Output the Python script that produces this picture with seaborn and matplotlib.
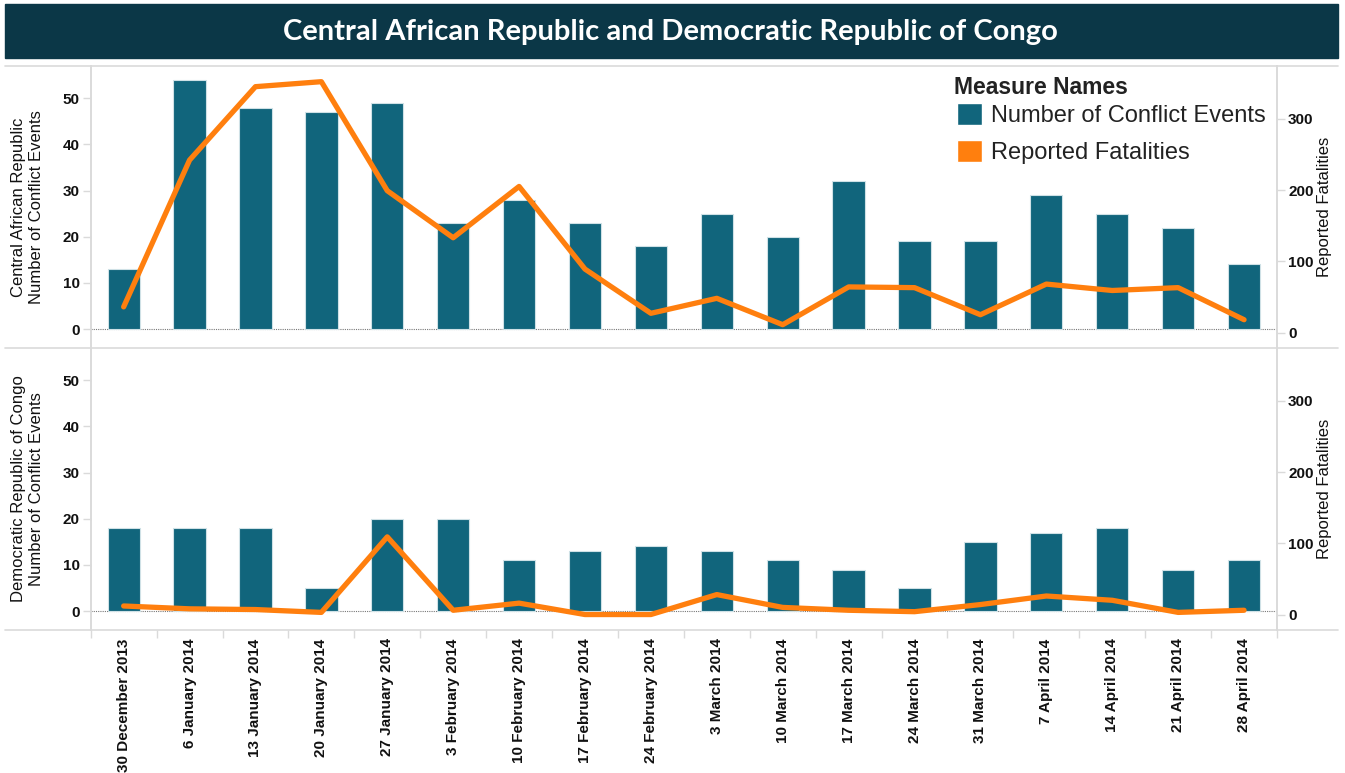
import matplotlib
matplotlib.use("Agg")
import matplotlib.pyplot as plt
from matplotlib.lines import Line2D
from matplotlib.patches import Patch, Rectangle
import numpy as np
import pandas as pd
import seaborn as sns

# weekly data
weeks = ["30 December 2013", "6 January 2014", "13 January 2014", "20 January 2014",
         "27 January 2014", "3 February 2014", "10 February 2014", "17 February 2014",
         "24 February 2014", "3 March 2014", "10 March 2014", "17 March 2014",
         "24 March 2014", "31 March 2014", "7 April 2014", "14 April 2014",
         "21 April 2014", "28 April 2014"]
countries = ["Central African Republic", "Democratic Republic of Congo"]

car_events = [13, 54, 48, 47, 49, 23, 28, 23, 18, 25, 20, 32, 19, 19, 29, 25, 22, 14]
car_fatalities = [36, 242, 345, 352, 199, 133, 205, 89, 27, 48, 11, 64, 63, 25, 68, 59, 63, 18]
drc_events = [18, 18, 18, 5, 20, 20, 11, 13, 14, 13, 11, 9, 5, 15, 17, 18, 9, 11]
drc_fatalities = [12, 8, 7, 3, 109, 6, 16, 0, 0, 28, 10, 6, 4, 14, 26, 20, 3, 6]

BAR = "#11657c"
LINE = "#ff7f0e"
GRID = "#dadada"
TITLE_BG = "#0b3747"

sns.set_theme(style="white")
plt.rcParams["font.family"] = ["Liberation Sans", "DejaVu Sans"]

W, H = 1345, 773
fig = plt.figure(figsize=(W / 100, H / 100), dpi=100)


def fx(px):
    return px / W


def fy(py):
    return 1 - py / H


# title banner
fig.add_artist(Rectangle((fx(5), fy(58)), fx(1338) - fx(5), (58 - 4) / H,
                         transform=fig.transFigure, color=TITLE_BG, zorder=0))
fig.text(fx(670), fy(32), "Central African Republic and Democratic Republic of Congo",
         ha="center", va="center", color="white", fontsize=21, fontweight="bold",
         family=["Lato", "DejaVu Sans"])

# panel separators
for yy in (66, 348, 630):
    fig.add_artist(Line2D([fx(5), fx(1338)], [fy(yy), fy(yy)], color=GRID, lw=1.2,
                          transform=fig.transFigure))

panels = [(66, 348, car_events, car_fatalities),
          (348, 630, drc_events, drc_fatalities)]
left_px, right_px = 90.7, 1277

for i, (top, bottom, events, fatal) in enumerate(panels):
    ax = fig.add_axes([fx(left_px), fy(bottom), fx(right_px) - fx(left_px), (bottom - top) / H])
    df = pd.DataFrame({"week": weeks, "events": events, "fatalities": fatal,
                       "pos": np.arange(len(weeks))})
    sns.barplot(data=df, x="week", y="events", color=BAR, saturation=1, width=0.49,
                edgecolor="#cfe1e6", linewidth=0.8, ax=ax, zorder=2)
    ax.axhline(0, color="#777777", lw=0.8, ls=(0, (1, 1)), zorder=1)
    ax.set_xlim(-0.5, len(weeks) - 0.5)
    ax.set_ylim(-4.1, 57.0)
    ax.set_yticks([0, 10, 20, 30, 40, 50])
    ax.set_xlabel("")
    ax.set_ylabel("")
    ax.patch.set_alpha(0)

    ax2 = ax.twinx()
    sns.lineplot(data=df, x="pos", y="fatalities", color=LINE, lw=3.8, ax=ax2,
                 solid_capstyle="round", solid_joinstyle="round", zorder=3)
    ax2.set_ylim(-21.7, 374)
    ax2.set_yticks([0, 100, 200, 300])
    ax2.set_ylabel("")
    ax2.set_xlim(-0.5, len(weeks) - 0.5)

    for a in (ax, ax2):
        for s in ("top", "bottom"):
            a.spines[s].set_visible(False)
        a.spines["left"].set_color(GRID)
        a.spines["right"].set_color(GRID)
        a.spines["left"].set_linewidth(1.2)
        a.spines["right"].set_linewidth(1.2)
        a.tick_params(axis="y", length=6, width=1, color=GRID, pad=2,
                      labelsize=11, labelcolor="#111111")
        for lab in a.get_yticklabels():
            lab.set_fontweight("bold")

    if i == 1:
        ax.set_xticks(np.arange(len(weeks)))
        ax.set_xticklabels(weeks, rotation=90, fontsize=11, fontweight="bold",
                           color="#111111", va="top", ha="center")
        ax.set_xticks(np.arange(len(weeks) + 1) - 0.5, minor=True)
        ax.tick_params(axis="x", which="major", length=0, pad=6)
        ax.tick_params(axis="x", which="minor", length=6, width=1, color=GRID, bottom=True)
    else:
        ax.set_xticks([])
    ax2.tick_params(axis="x", length=0, labelbottom=False)

    mid = (top + bottom) / 2
    fig.text(fx(28), fy(mid), f"{countries[i]}\nNumber of Conflict Events",
             rotation=90, ha="center", va="center", multialignment="center",
             fontsize=12, linespacing=1.25, color="#111111")
    fig.text(fx(1325), fy(mid), "Reported Fatalities", rotation=90,
             ha="center", va="center", fontsize=12, color="#111111")

# legend: title as text, entries as a frameless legend
fig.text(fx(954), fy(87), "Measure Names", ha="left", va="center",
         fontsize=16.5, fontweight="bold", color="#222222")
handles = [Patch(facecolor=BAR, label="Number of Conflict Events"),
           Patch(facecolor=LINE, label="Reported Fatalities")]
leg = fig.legend(handles=handles, loc="upper left",
                 bbox_to_anchor=(fx(957), fy(103)), frameon=False, fontsize=17,
                 handlelength=1.06, handleheight=1.06, handletextpad=0.38,
                 labelspacing=0.53, borderpad=0, borderaxespad=0)
for t in leg.get_texts():
    t.set_color("#222222")

fig.savefig("out.png", dpi=100)
